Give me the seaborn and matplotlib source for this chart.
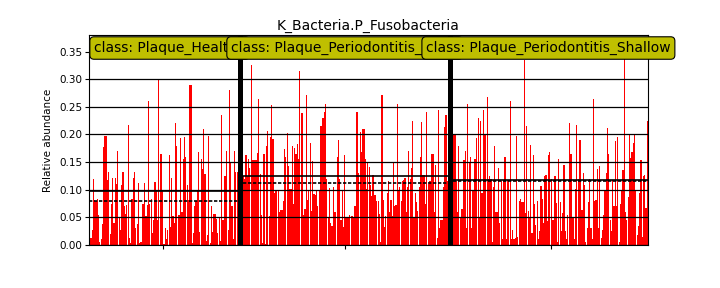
import numpy as np
import pandas as pd
import matplotlib
matplotlib.use("Agg")
import matplotlib.pyplot as plt
import seaborn as sns

title = "K_Bacteria.P_Fusobacteria"
class_names = ["Plaque_Healthy", "Plaque_Periodontitis_Deep", "Plaque_Periodontitis_Shallow"]

healthy = [0.178, 0.012, 0.027, 0.119, 0.081, 0.080, 0.083, 0.054, 0.005, 0.011,
           0.038, 0.177, 0.197, 0.197, 0.117, 0.132, 0.020, 0.075, 0.121, 0.040,
           0.122, 0.110, 0.171, 0.050, 0.027, 0.109, 0.132, 0.070, 0.057, 0.073,
           0.218, 0.012, 0.003, 0.084, 0.122, 0.132, 0.031, 0.038, 0.112, 0.003,
           0.006, 0.074, 0.074, 0.113, 0.052, 0.072, 0.261, 0.074, 0.083, 0.022,
           0.045, 0.114, 0.098, 0.045, 0.299, 0.165, 0.165, 0.098, 0.002, 0.031,
           0.010, 0.028, 0.163, 0.033, 0.122, 0.053, 0.039, 0.221, 0.179, 0.054,
           0.054, 0.193, 0.060, 0.155, 0.196, 0.160, 0.108, 0.081, 0.290, 0.290,
           0.003, 0.022, 0.071, 0.080, 0.099, 0.168, 0.024, 0.155, 0.137, 0.210,
           0.128, 0.008, 0.019, 0.197, 0.003, 0.071, 0.023, 0.056, 0.056, 0.047,
           0.022, 0.048, 0.008, 0.235, 0.045, 0.125, 0.125, 0.170, 0.028, 0.281,
           0.150, 0.070, 0.010, 0.170, 0.133, 0.133]

deep = [0.125, 0.120, 0.162, 0.125, 0.155, 0.140, 0.325, 0.153, 0.153, 0.153,
        0.153, 0.167, 0.265, 0.128, 0.055, 0.003, 0.165, 0.002, 0.180, 0.206,
        0.052, 0.195, 0.253, 0.192, 0.095, 0.097, 0.098, 0.100, 0.060, 0.064,
        0.064, 0.079, 0.174, 0.159, 0.202, 0.143, 0.101, 0.101, 0.180, 0.075,
        0.175, 0.164, 0.183, 0.155, 0.315, 0.238, 0.238, 0.055, 0.066, 0.272,
        0.082, 0.100, 0.185, 0.062, 0.152, 0.092, 0.090, 0.100, 0.070, 0.100,
        0.216, 0.216, 0.229, 0.240, 0.255, 0.120, 0.048, 0.103, 0.040, 0.034,
        0.105, 0.060, 0.060, 0.160, 0.190, 0.120, 0.045, 0.100, 0.032, 0.163,
        0.050, 0.048, 0.048, 0.055, 0.052, 0.052, 0.050, 0.070, 0.240, 0.240,
        0.130, 0.205, 0.168, 0.210, 0.210, 0.155, 0.102, 0.151, 0.141, 0.108,
        0.088, 0.127, 0.090, 0.090, 0.080, 0.080, 0.057, 0.005, 0.272, 0.082,
        0.033, 0.052, 0.095, 0.115, 0.060, 0.081, 0.052, 0.151, 0.070, 0.073,
        0.256, 0.100, 0.105, 0.080, 0.115, 0.118, 0.122, 0.060, 0.105, 0.170,
        0.120, 0.140, 0.225, 0.050, 0.095, 0.078, 0.062, 0.105, 0.160, 0.222,
        0.127, 0.127, 0.075, 0.240, 0.110, 0.115, 0.115, 0.165, 0.165, 0.060,
        0.145, 0.013, 0.244, 0.030, 0.045, 0.045, 0.105, 0.213, 0.235, 0.115]

shallow = [0.200, 0.200, 0.115, 0.060, 0.180, 0.050, 0.065, 0.065, 0.154, 0.170,
           0.030, 0.256, 0.150, 0.160, 0.030, 0.100, 0.155, 0.155, 0.193, 0.230,
           0.050, 0.225, 0.095, 0.245, 0.200, 0.200, 0.268, 0.120, 0.125, 0.120,
           0.005, 0.105, 0.180, 0.060, 0.060, 0.140, 0.040, 0.115, 0.010, 0.115,
           0.160, 0.010, 0.118, 0.118, 0.260, 0.010, 0.027, 0.010, 0.013, 0.197,
           0.015, 0.080, 0.083, 0.077, 0.078, 0.335, 0.058, 0.215, 0.061, 0.050,
           0.181, 0.022, 0.163, 0.075, 0.037, 0.080, 0.010, 0.025, 0.106, 0.083,
           0.040, 0.125, 0.127, 0.043, 0.162, 0.168, 0.120, 0.045, 0.045, 0.125,
           0.076, 0.005, 0.155, 0.077, 0.025, 0.058, 0.145, 0.025, 0.010, 0.055,
           0.220, 0.165, 0.165, 0.050, 0.010, 0.102, 0.218, 0.120, 0.190, 0.190,
           0.064, 0.130, 0.108, 0.005, 0.030, 0.078, 0.120, 0.030, 0.010, 0.265,
           0.080, 0.082, 0.138, 0.030, 0.143, 0.013, 0.028, 0.055, 0.100, 0.130,
           0.211, 0.165, 0.045, 0.025, 0.117, 0.070, 0.188, 0.070, 0.196, 0.006,
           0.075, 0.100, 0.136, 0.340, 0.060, 0.045, 0.087, 0.200, 0.157, 0.168,
           0.185, 0.200, 0.100, 0.018, 0.035, 0.095, 0.153, 0.015, 0.125, 0.126,
           0.067, 0.225]

class_means = [0.097, 0.125, 0.118]
class_medians = [0.080, 0.113, 0.116]
yticks = [0.00, 0.05, 0.10, 0.15, 0.20, 0.25, 0.30, 0.35]
y_top = 0.38

BLACK = "#000000"
BOX_YELLOW = "#bfbf00"
BAR_RED = "#ff0000"

sns.set_theme(style="ticks")
plt.rcParams['font.family'] = ['DejaVu Sans']

groups = [healthy, deep, shallow]
SEP = 4
rows = []
starts = []
pos = 0
for i, vals in enumerate(groups):
    starts.append(pos)
    for v in vals:
        rows.append((pos, v, class_names[i]))
        pos += 1
    if i < len(groups) - 1:
        pos += SEP
total = pos
df = pd.DataFrame(rows, columns=["pos", "abundance", "cls"])

fig = plt.figure(figsize=(7.2, 2.88), dpi=100)
ax = fig.add_axes([89 / 720, 43 / 288, 559 / 720, 210 / 288])

sns.barplot(data=df, x="pos", y="abundance", native_scale=True, color=BAR_RED,
            saturation=1, width=0.9, errorbar=None, linewidth=0, ax=ax)

# separators between classes
for i in range(len(groups) - 1):
    end = starts[i] + len(groups[i])
    ax.bar(end + (SEP - 1) / 2, y_top, width=SEP, color=BLACK, zorder=3, linewidth=0)

# mean (solid) / median (dashed) lines
for i, vals in enumerate(groups):
    x0 = starts[i] - 0.5
    x1 = starts[i] + len(vals) - 0.5
    ax.plot([x0, x1], [class_means[i]] * 2, color=BLACK, lw=1.2, zorder=4)
    ax.plot([x0, x1], [class_medians[i]] * 2, color=BLACK, lw=1.2, ls=(0, (2, 1)), zorder=4)

ax.set_xlim(-0.5, total - 0.5)
ax.set_ylim(0, y_top)
ax.set_yticks(yticks)
ax.set_yticklabels([f"{t:.2f}" for t in yticks], fontsize=7.5)
mids = [starts[i] + (len(g) - 1) / 2 for i, g in enumerate(groups)]
ax.set_xticks(mids)
ax.set_xticklabels([""] * len(mids))
ax.tick_params(axis="both", direction="out", length=3, width=0.8, colors=BLACK, pad=2)
ax.yaxis.grid(True, color=BLACK, lw=0.9)
ax.xaxis.grid(False)
ax.set_axisbelow(False)
for sp in ax.spines.values():
    sp.set_visible(True)
    sp.set_color(BLACK)
    sp.set_linewidth(0.8)

ax.set_xlabel("")
ax.set_ylabel("Relative abundance", fontsize=7.5, color=BLACK)
ax.set_title(title, fontsize=10, pad=4, color=BLACK)

label_x = [0.009, 0.254, 0.603]
for i, name in enumerate(class_names):
    ax.text(label_x[i], 0.938, "class: " + name, transform=ax.transAxes,
            fontsize=10, ha="left", va="center", color=BLACK, zorder=6, clip_on=False,
            bbox=dict(boxstyle="round,pad=0.3", fc=BOX_YELLOW, ec=BLACK, lw=0.8))

fig.savefig("out.png", dpi=100)
